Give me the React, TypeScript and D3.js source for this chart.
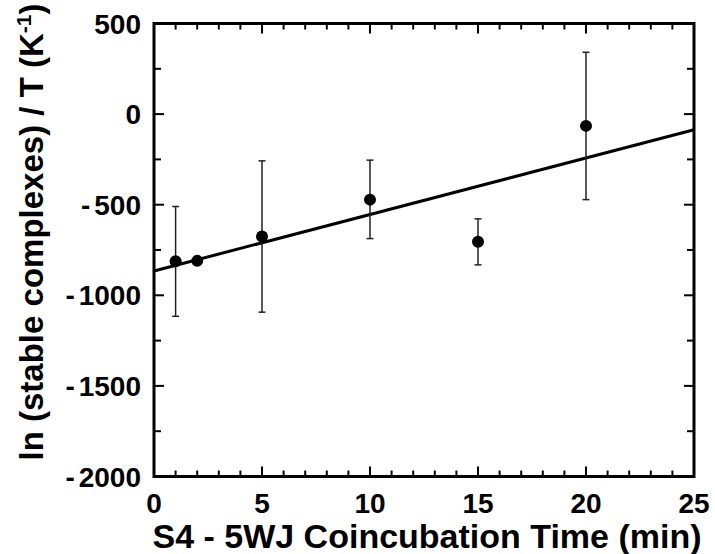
import React from "react";
import * as d3 from "d3";

const times = [1, 2, 5, 10, 15, 20];
const values = [-812, -810, -676, -472, -705, -65];
const errUpper = [-510, -810, -258, -254, -578, 341];
const errLower = [-1116, -810, -1093, -687, -832, -472];
const fitIntercept = -866;
const fitSlope = 31.2;
const xTicks = [0, 5, 10, 15, 20, 25];
const yTicks = [500, 0, -500, -1000, -1500, -2000];

const W = 715, H = 554;
const L = 154, R = 694, T = 23.5, B = 476.5;

export default function App() {
  const x = d3.scaleLinear().domain([0, 25]).range([L, R]);
  const y = d3.scaleLinear().domain([-2000, 500]).range([B, T]);
  const minorX = d3.range(0, 26, 1);
  const minorY = d3.range(-2000, 501, 250);
  const font = "'Liberation Sans', Arial, sans-serif";
  const line = d3.line<number>().x((t) => x(t)).y((t) => y(fitIntercept + fitSlope * t));
  const fmt = (v: number) => (v < 0 ? (
    <>
      <tspan>-</tspan>
      <tspan dx={4}>{Math.abs(v)}</tspan>
    </>
  ) : String(v));
  return (
    <svg width={W} height={H} style={{ position: "absolute", left: 0, top: 0, background: "#fff" }}>
      {minorX.map((t) => {
        const len = t % 5 === 0 ? 10 : 6;
        return (
          <g key={"x" + t} stroke="#000" strokeWidth={2}>
            <line x1={x(t)} x2={x(t)} y1={B} y2={B - len} />
            <line x1={x(t)} x2={x(t)} y1={T} y2={T + len} />
          </g>
        );
      })}
      {minorY.map((v) => {
        const len = v % 500 === 0 ? 10 : 7;
        return (
          <g key={"y" + v} stroke="#000" strokeWidth={2}>
            <line x1={L} x2={L + len} y1={y(v)} y2={y(v)} />
            <line x1={R} x2={R - len} y1={y(v)} y2={y(v)} />
          </g>
        );
      })}
      <rect x={L} y={T} width={R - L} height={B - T} fill="none" stroke="#000" strokeWidth={3} />
      <path d={line([0, 25]) || ""} stroke="#000" strokeWidth={3} fill="none" />
      {times.map((t, i) =>
        errUpper[i] !== errLower[i] ? (
          <g key={"e" + i} stroke="#222" strokeWidth={1.5}>
            <line x1={x(t)} x2={x(t)} y1={y(errUpper[i])} y2={y(errLower[i])} />
            <line x1={x(t) - 3.5} x2={x(t) + 3.5} y1={y(errUpper[i])} y2={y(errUpper[i])} />
            <line x1={x(t) - 3.5} x2={x(t) + 3.5} y1={y(errLower[i])} y2={y(errLower[i])} />
          </g>
        ) : null
      )}
      {times.map((t, i) => (
        <circle key={"p" + i} cx={x(t)} cy={y(values[i])} r={6} fill="#000" />
      ))}
      {xTicks.map((t) => (
        <text key={"xl" + t} x={x(t)} y={513} textAnchor="middle" fontFamily={font} fontWeight="bold" fontSize={28}>
          {t}
        </text>
      ))}
      {yTicks.map((v) => (
        <text key={"yl" + v} x={141} y={y(v) + 10} textAnchor="end" fontFamily={font} fontWeight="bold" fontSize={28}>
          {fmt(v)}
        </text>
      ))}
      <text x={427} y={548} textAnchor="middle" fontFamily={font} fontWeight="bold" fontSize={34}>
        S4 - 5WJ Coincubation Time (min)
      </text>
      <text
        transform={`translate(43, 232) rotate(-90)`}
        textAnchor="middle"
        fontFamily={font}
        fontWeight="bold"
        fontSize={33}
      >
        ln (stable complexes) / T (K
        <tspan fontSize={21} dy={-12}>-1</tspan>
        <tspan dy={12}>)</tspan>
      </text>
    </svg>
  );
}
